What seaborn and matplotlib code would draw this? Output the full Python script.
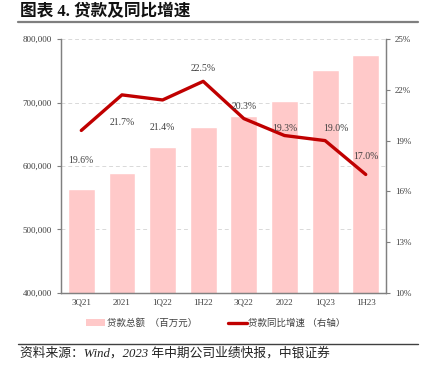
import numpy as np
import pandas as pd
import matplotlib
matplotlib.use('Agg')
import matplotlib.pyplot as plt
from matplotlib.lines import Line2D
from matplotlib.patches import Patch
import seaborn as sns

# --- data ---
periods = ['3Q21', '2021', '1Q22', '1H22', '3Q22', '2022', '1Q23', '1H23']
loans = [563800, 589000, 630500, 661500, 678500, 702500, 751000, 775000]  # 百万元
growth = [19.6, 21.7, 21.4, 22.5, 20.3, 19.3, 19.0, 17.0]                 # %
left_ticks = [400000, 500000, 600000, 700000, 800000]
right_ticks = [10, 13, 16, 19, 22, 25]

# label offsets (points) for the growth labels
label_dy = [-22, -20, -20, 9, 9, 5, 9, 13]
label_dx = [0, 0, 0, 0, 0, 0, 8, 0]

df = pd.DataFrame({'period': periods, 'loans': loans, 'growth': growth})

sns.set_style('white')
plt.rcParams['font.family'] = ['Liberation Serif', 'Noto Sans CJK SC', 'DejaVu Sans']
plt.rcParams['axes.unicode_minus'] = False

bar_color = '#FFC9C9'
line_color = '#C00000'
grey = '#404040'

fig = plt.figure(figsize=(4.28, 3.74), dpi=100)
ax = fig.add_axes([0.1425, 0.2166, 0.7595, 0.6791])

sns.barplot(data=df, x='period', y='loans', color=bar_color, width=0.66,
            saturation=1, ax=ax, zorder=2)
ax.set_xlim(-0.5, len(periods) - 0.5)
ax.set_ylim(400000, 800000)
ax.set_yticks(left_ticks)
ax.set_yticklabels([f'{v:,}' for v in left_ticks])
ax.set_xlabel('')
ax.set_ylabel('')
ax.yaxis.grid(True, linestyle=(0, (4, 3)), color='#D9D9D9', linewidth=0.7, zorder=0)
ax.set_axisbelow(True)

ax2 = ax.twinx()
sns.lineplot(x=df.index, y=df['growth'], color=line_color, linewidth=2.4, ax=ax2)
ax2.set_ylim(10, 25)
ax2.set_yticks(right_ticks)
ax2.set_yticklabels([f'{v}%' for v in right_ticks])
ax2.set_ylabel('')
for i, v in enumerate(growth):
    ax2.annotate(f'{v:.1f}%', (i, v), xytext=(label_dx[i], label_dy[i]),
                 textcoords='offset points', ha='center', va='center',
                 fontsize=7, color=grey)

# minor ticks at category boundaries on the x-axis
ax.set_xticks(np.arange(len(periods) + 1) - 0.5, minor=True)
ax.tick_params(axis='x', which='major', length=0, labelsize=6.5, colors=grey, pad=4)
ax.tick_params(axis='x', which='minor', length=3, color='#808080', width=0.8, direction='out')
ax.tick_params(axis='y', length=3, color='#808080', width=0.8, labelsize=6.5,
               colors=grey, direction='out')
ax2.tick_params(axis='y', length=3, color='#808080', width=0.8, labelsize=6.5,
                colors=grey, direction='out')

for a in (ax, ax2):
    a.spines['top'].set_visible(False)
    for s in ('left', 'right', 'bottom'):
        a.spines[s].set_color('#808080')
        a.spines[s].set_linewidth(0.9)

handles = [Patch(facecolor=bar_color, edgecolor='none'),
           Line2D([0], [0], color=line_color, linewidth=2.4)]
fig.legend(handles, ['贷款总额  （百万元）', '贷款同比增速 （右轴）'],
           loc='center', bbox_to_anchor=(0.505, 0.136), ncol=2, frameon=False,
           fontsize=6.8, handlelength=2.0, handletextpad=0.2, columnspacing=3.2,
           labelcolor=grey)

# title and source
fig.text(0.047, 0.967, '图表 4. 贷款及同比增速', fontsize=12, fontweight='bold',
         va='center', ha='left', color='#111111')
fig.add_artist(Line2D([0.042, 0.977], [0.94, 0.94], color='#7F7F7F', linewidth=1.6))
fig.add_artist(Line2D([0.042, 0.977], [0.08, 0.08], color='#404040', linewidth=1.0))
fig.text(0.047, 0.055, '资料来源：Wind，2023 年中期公司业绩快报，中银证券', fontsize=9.2,
         style='italic', va='center', ha='left', color='#222222')

fig.savefig('out.png', dpi=100)
